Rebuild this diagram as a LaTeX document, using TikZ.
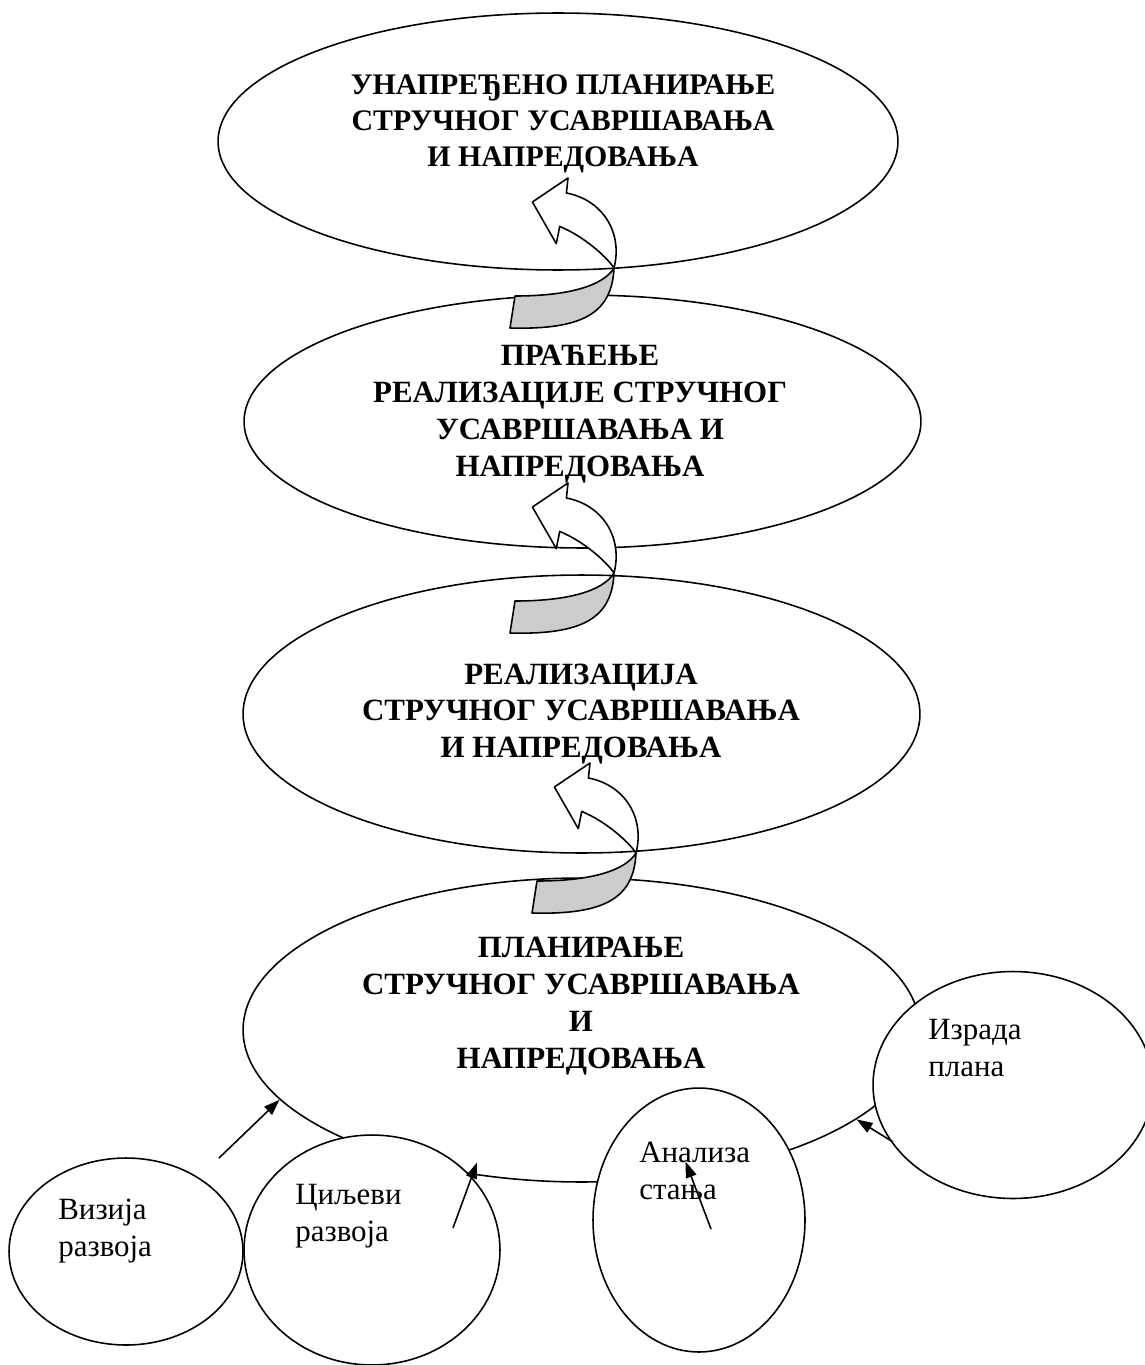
\documentclass[tikz,border=0pt]{standalone}
\usepackage{fontspec}
\setmainfont{Liberation Serif}
\usetikzlibrary{shapes.geometric,arrows.meta}

\begin{document}
\begin{tikzpicture}[
    x=0.02cm, y=-0.02cm,
    bigoval/.style={ellipse, draw, line width=0.9pt, inner sep=0pt},
    smalloval/.style={ellipse, draw, fill=white, line width=0.9pt, inner sep=0pt},
    headtext/.style={font=\fontsize{17.6}{21}\selectfont\bfseries, align=center, inner sep=0pt},
    smalltext/.style={font=\fontsize{17.6}{21}\selectfont, align=left, anchor=north west, inner sep=0pt},
    link/.style={line width=0.9pt, -{Triangle[length=0.32cm, width=0.22cm]}}
]
\useasboundingbox (0,0) rectangle (1145,1365);

% Stages of the cycle
\node[bigoval, minimum width=13.6cm, minimum height=5.14cm] (improved) at (558,141.5) {};
\node[bigoval, minimum width=13.54cm, minimum height=5.06cm] (monitor) at (582.5,421.5) {};
\node[bigoval, minimum width=13.54cm, minimum height=5.56cm] (realize) at (581.5,714) {};
\node[bigoval, minimum width=13.54cm, minimum height=6.08cm] (plan) at (581.5,1030) {};

% Ribbon arrows between the stages
\foreach \x/\y in {568/178, 568/483, 590/763} {
  \begin{scope}[shift={(\x,\y)}, line width=0.9pt, line join=round]
    \filldraw[fill=black!20] (46,90) .. controls (44,135) and (15,152) .. (-58,150)
      -- (-53,118) .. controls (0,118) and (35,108) .. (46,90) -- cycle;
    \filldraw[fill=white] (0,0) -- (-1.6,15) .. controls (35,22) and (55,55) .. (46,90)
      .. controls (38,78) and (15,58) .. (-8.3,48.4) -- (-11.7,65.7) -- (-35.6,24) -- cycle;
  \end{scope}
}

% Steps of planning
\node[smalloval, minimum width=4.68cm, minimum height=3.74cm] (vision) at (126,1251.5) {};
\node[smalloval, minimum width=5.12cm, minimum height=4.6cm] (goals) at (372,1250) {};
\node[smalloval, minimum width=4.24cm, minimum height=5.28cm] (analysis) at (699,1220) {};
\node[smalloval, minimum width=5.6cm, minimum height=4.54cm] (draft) at (1013,1085) {};

% Texts
\node[headtext, font=\fontsize{17}{20.4}\selectfont\bfseries] (improvedtext) at (563,124) {УНАПРЕЂЕНО ПЛАНИРАЊЕ\\СТРУЧНОГ УСАВРШАВАЊА\\И НАПРЕДОВАЊА};
\node[headtext] (monitortext) at (580,414) {ПРАЋЕЊЕ\\РЕАЛИЗАЦИЈЕ СТРУЧНОГ\\УСАВРШАВАЊА И\\НАПРЕДОВАЊА};
\node[headtext] (realizetext) at (581,714) {РЕАЛИЗАЦИЈА\\СТРУЧНОГ УСАВРШАВАЊА\\И НАПРЕДОВАЊА};
\node[headtext] (plantext) at (581,1006) {ПЛАНИРАЊЕ\\СТРУЧНОГ УСАВРШАВАЊА\\И\\НАПРЕДОВАЊА};

\node[smalltext] (visiontext) at (58,1199) {Визија\\развоја};
\node[smalltext] (goalstext) at (295,1184) {Циљеви\\развоја};
\node[smalltext] (analysistext) at (639,1142) {Анализа\\стања};
\node[smalltext] (drafttext) at (928,1019) {Израда\\плана};

% Arrows into planning
\coordinate (visionend) at (219,1158);
\coordinate (goalsend) at (453,1228);
\coordinate (analysisend) at (711,1229);
\coordinate (draftend) at (893,1142);
\draw[link] (visionend) -- (plan.193);
\draw[link, shorten >=-0.26cm] (goalsend) -- (plan.233);
\draw[link, shorten >=-0.28cm] (analysisend) -- (plan.307);
\draw[link] (draftend) -- (plan.342);

\end{tikzpicture}
\end{document}
